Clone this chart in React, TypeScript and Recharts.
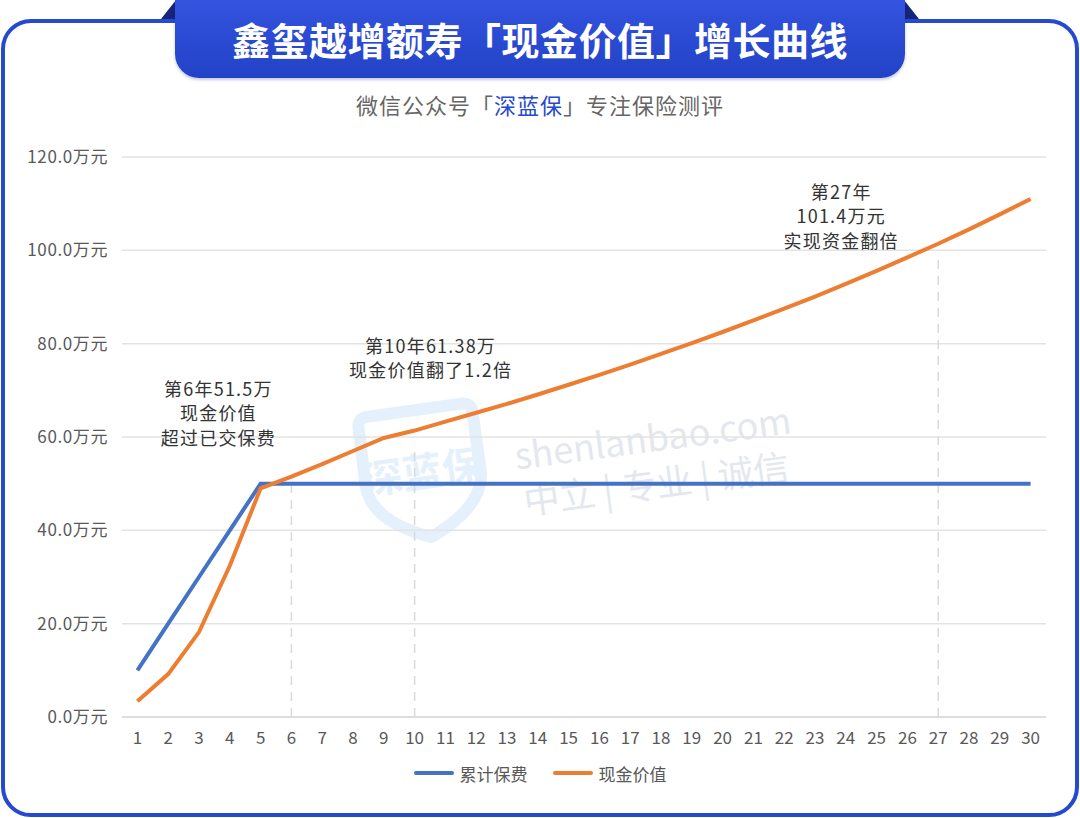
import { LineChart, Line, XAxis, YAxis, CartesianGrid, ReferenceLine, ReferenceDot, Legend } from 'recharts'

const years = [1, 2, 3, 4, 5, 6, 7, 8, 9, 10, 11, 12, 13, 14, 15, 16, 17, 18, 19, 20, 21, 22, 23, 24, 25, 26, 27, 28, 29, 30]
const premiumPaid = [10, 20, 30, 40, 50, 50, 50, 50, 50, 50, 50, 50, 50, 50, 50, 50, 50, 50, 50, 50, 50, 50, 50, 50, 50, 50, 50, 50, 50, 50]
const cashValue = [3.4, 9.2, 18.2, 32.4, 49.0, 51.5, 54.2, 57.0, 59.8, 61.38, 63.3, 65.2, 67.1, 69.1, 71.2, 73.3, 75.5, 77.8, 80.1, 82.5, 85.0, 87.5, 90.1, 92.8, 95.6, 98.5, 101.4, 104.5, 107.7, 111.0]
const yTicks = [0, 20, 40, 60, 80, 100, 120]
const seriesNames = ['累计保费', '现金价值']

const noteYears = [6, 10, 27]
const noteTexts = [
  ['第6年51.5万', '现金价值', '超过已交保费'],
  ['第10年61.38万', '现金价值翻了1.2倍'],
  ['第27年', '101.4万元', '实现资金翻倍'],
]
const guideTops = [50, 58, 99]

// label offsets from the anchored point, in px
const noteOffsets = [
  { dx: -73, dy: -89 },
  { dx: 16, dy: -86 },
  { dx: -97, dy: -53 },
]

const BLUE = '#4472c4'
const ORANGE = '#ed7d31'
const FONT = '"Noto Sans CJK SC", "Noto Sans", sans-serif'

const data = years.map((year, i) => ({ year, paid: premiumPaid[i], cash: cashValue[i] }))

function Note({ cx, cy, lines, dx, dy }: any) {
  if (cx == null || cy == null) return null
  return (
    <g>
      {lines.map((t: string, i: number) => (
        <text
          key={i}
          x={cx + dx}
          y={cy + dy + i * 24.5}
          textAnchor="middle"
          dominantBaseline="central"
          fontSize={18}
          letterSpacing={1.2}
          fill="#333"
          fontFamily={FONT}
        >
          {t}
        </text>
      ))}
    </g>
  )
}

function LegendBox() {
  const colors = [BLUE, ORANGE]
  return (
    <div style={{ display: 'flex', justifyContent: 'center', alignItems: 'center', height: 30, gap: 25, fontFamily: FONT, fontSize: 17, color: '#595959' }}>
      {seriesNames.map((n, i) => (
        <div key={n} style={{ display: 'flex', alignItems: 'center', gap: 6 }}>
          <span style={{ display: 'inline-block', width: 40, height: 4, borderRadius: 2, background: colors[i] }} />
          <span>{n}</span>
        </div>
      ))}
    </div>
  )
}

function Watermark() {
  return (
    <div style={{ position: 'absolute', left: 0, top: 0, width: 1080, height: 818, pointerEvents: 'none' }}>
      <svg width={1080} height={818} style={{ position: 'absolute', left: 0, top: 0 }}>
        <g transform="rotate(-8 420 470)">
          <path
            d="M 365 420 Q 365 410 375 410 L 470 410 Q 480 410 480 420 L 480 480 Q 478 515 422 538 Q 366 515 364 480 Z"
            fill="none"
            stroke="#e4f0fc"
            strokeWidth={12}
            strokeLinejoin="round"
          />
          <text x={422} y={470} textAnchor="middle" dominantBaseline="central" fontSize={40} fontWeight={700} fill="#e4f0fc" fontFamily={FONT}>
            深蓝保
          </text>
        </g>
        <g transform="rotate(-7.5 650 450)" fontFamily={FONT} fill="#e4e7ee">
          <text x={515} y={452} fontSize={36}>shenlanbao.com</text>
          <text x={518} y={498} fontSize={36}>中立 | 专业 | 诚信</text>
        </g>
      </svg>
    </div>
  )
}

export default function App() {
  return (
    <div style={{ position: 'absolute', left: 0, top: 0, width: 1080, height: 818, background: '#fff', fontFamily: FONT, overflow: 'hidden' }}>
      <div
        style={{
          position: 'absolute',
          left: 1,
          top: 19,
          width: 1078,
          height: 798,
          boxSizing: 'border-box',
          border: '4px solid #2549cf',
          borderRadius: 30,
          background: '#fff',
        }}
      />
      <Watermark />
      <div style={{ position: 'absolute', left: 0, top: 0 }}>
        <LineChart width={1080} height={818} data={data} margin={{ top: 157, right: 34, bottom: 30, left: 0 }}>
          <CartesianGrid horizontal vertical={false} stroke="#e3e3e3" strokeWidth={1.5} />
          <XAxis
            dataKey="year"
            type="category"
            height={41}
            padding={{ left: 15.4, right: 15.4 }}
            tickSize={0}
            tickMargin={15}
            axisLine={{ stroke: '#d9d9d9', strokeWidth: 1.5 }}
            tick={{ fill: '#595959', fontSize: 17, fontFamily: FONT }}
            interval={0}
          />
          <YAxis
            domain={[0, 120]}
            ticks={yTicks}
            width={122}
            tickSize={0}
            tickMargin={14}
            axisLine={false}
            tick={{ fill: '#595959', fontSize: 17, fontFamily: FONT, letterSpacing: 0.6 }}
            tickFormatter={(v: number) => `${v.toFixed(1)}万元`}
          />
          {noteYears.map((y, i) => (
            <ReferenceLine
              key={'g' + y}
              segment={[{ x: y, y: 0 }, { x: y, y: guideTops[i] }]}
              stroke="#d9d9d9"
              strokeWidth={1.5}
              strokeDasharray="9 7"
            />
          ))}
          <Line type="linear" dataKey="paid" name={seriesNames[0]} stroke={BLUE} strokeWidth={4} dot={false} isAnimationActive={false} />
          <Line type="linear" dataKey="cash" name={seriesNames[1]} stroke={ORANGE} strokeWidth={4} dot={false} isAnimationActive={false} />
          {noteYears.map((y, i) => (
            <ReferenceDot
              key={'n' + y}
              x={y}
              y={cashValue[y - 1]}
              r={0}
              shape={(p: any) => <Note cx={p.cx} cy={p.cy} lines={noteTexts[i]} dx={noteOffsets[i].dx} dy={noteOffsets[i].dy} />}
            />
          ))}
          <Legend verticalAlign="bottom" content={() => <LegendBox />} wrapperStyle={{ left: 0, width: 1080, bottom: 30 }} />
        </LineChart>
      </div>
      {/* title ribbon */}
      <svg width={1080} height={20} style={{ position: 'absolute', left: 0, top: 0 }}>
        <polygon points="161,19 176,0 176,19" fill="#16247a" />
        <polygon points="904,0 919,19 904,19" fill="#16247a" />
      </svg>
      <div
        style={{
          position: 'absolute',
          left: 175,
          top: 0,
          width: 730,
          height: 78,
          borderRadius: '0 0 24px 24px',
          background: 'linear-gradient(180deg, #3453df 0%, #2242c6 100%)',
          boxShadow: '0 2px 3px rgba(20,40,140,0.25)',
          color: '#fff',
          fontSize: 38,
          fontWeight: 700,
          display: 'flex',
          alignItems: 'center',
          justifyContent: 'center',
          paddingBottom: 2,
          boxSizing: 'border-box',
          letterSpacing: 0.5,
        }}
      >
        鑫玺越增额寿「现金价值」增长曲线
      </div>
      <div style={{ position: 'absolute', left: 0, top: 90, width: 1080, textAlign: 'center', fontSize: 22, color: '#666', letterSpacing: 1, lineHeight: '28px' }}>
        微信公众号「<span style={{ color: '#2549cf' }}>深蓝保</span>」专注保险测评
      </div>
    </div>
  )
}
